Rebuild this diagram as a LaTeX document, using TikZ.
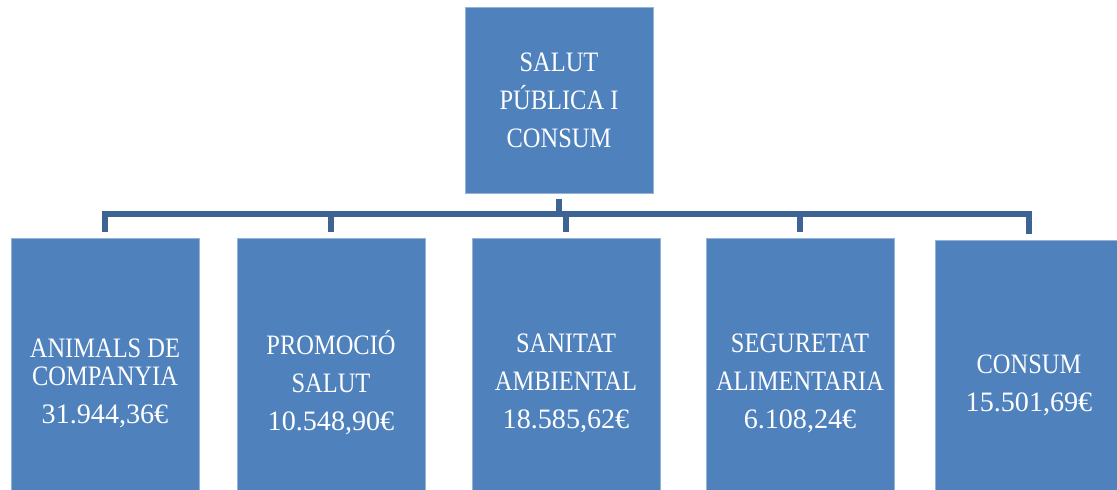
\documentclass[tikz,border=0pt]{standalone}
\usepackage{fontspec}
\setmainfont{Liberation Serif}[FakeStretch=0.87]
\newfontfamily\numfont{Liberation Serif}
\usetikzlibrary{positioning}
\definecolor{boxblue}{RGB}{79,129,189}
\definecolor{linkblue}{RGB}{62,100,148}
\tikzset{
  box/.style  = {rectangle, fill=boxblue, draw=boxblue!60!white, line width=0.4pt,
                 minimum width=4.7cm, minimum height=7.25cm, inner sep=0pt,
                 align=center, text=white, font=\fontsize{20}{27}\selectfont},
  head/.style = {box, minimum height=4.65cm},
  conn/.style = {draw=linkblue, line width=3.8pt}
}

\begin{document}
\begin{tikzpicture}[x=0.025cm, y=-0.025cm]
\useasboundingbox (0,0) rectangle (1117,489);
\clip (0,0) rectangle (1117,489);

% --- Regidoria --------------------------------------------------
\node[head] (salut) at (559,100) {SALUT\\PÚBLICA I\\CONSUM};

% --- Seccions ---------------------------------------------------
\node[box] (animals)   at (105,383)  {ANIMALS DE\\[-7pt]COMPANYIA\\{\numfont 31.944,36€}};
\node[box] (promocio)  at (331,383)  {PROMOCIÓ\\SALUT\\{\numfont 10.548,90€}};
\node[box] (sanitat)   at (566,383)  {SANITAT\\AMBIENTAL\\{\numfont 18.585,62€}};
\node[box] (seguretat) at (800,383)  {SEGURETAT\\ALIMENTARIA\\{\numfont 6.108,24€}};
\node[box] (consum)    at (1029,385) {CONSUM\\{\numfont 15.501,69€}};

% --- Connexions -------------------------------------------------
\coordinate (bus) at (559,214);
\draw[conn] ([yshift=-0.15cm]salut.south) -- (bus);
\foreach \sec in {animals,promocio,sanitat,seguretat,consum}
  \draw[conn] (bus) -| ([yshift=0.15cm]\sec.north);
\end{tikzpicture}
\end{document}
